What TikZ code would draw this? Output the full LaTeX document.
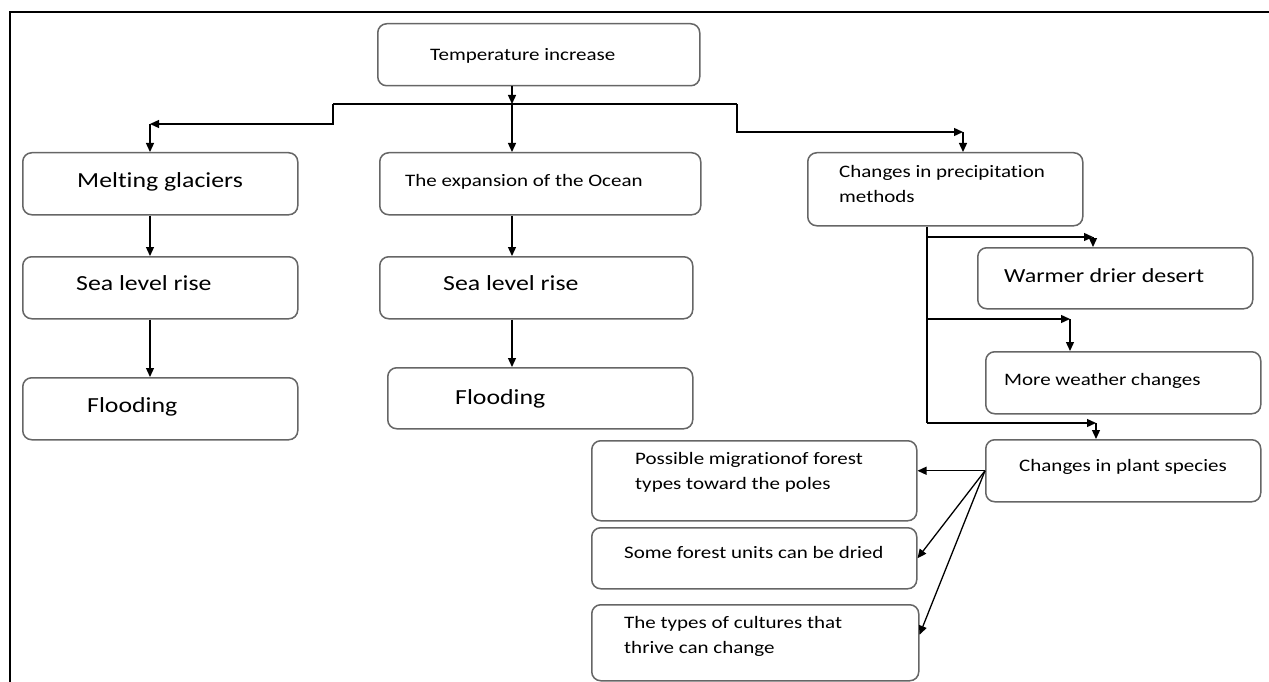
\documentclass[tikz,border=0pt]{standalone}
\usepackage{fontspec}
\setmainfont{Carlito}[FakeStretch=1.2, Ligatures=CommonOff]
\usetikzlibrary{arrows.meta}
\begin{document}
\begin{tikzpicture}[x=1pt,y=-1pt,
  box/.style={draw=black!60, line width=1.5pt, rounded corners=9pt, anchor=north west, inner sep=0pt},
  txt/.style={anchor=base west, inner sep=0pt, align=left, font=\fontsize{17.5}{25}\selectfont},
  bigtxt/.style={txt, font=\fontsize{21.5}{28}\selectfont},
  arr/.style={line width=1.3pt, -{Triangle[length=9pt,width=8pt]}},
  ln/.style={line width=1.3pt}]
\useasboundingbox (0,0) rectangle (1269,682);
\draw[line width=2.5pt] (1269,12) -- (10,12) -- (10,682);
% boxes
\node[box, minimum width=322pt, minimum height=62pt] (temp) at (377,23){};
\node[box, minimum width=275pt, minimum height=62pt] (melt) at (22,152){};
\node[box, minimum width=321pt, minimum height=62pt] (expa) at (379,152){};
\node[box, minimum width=275pt, minimum height=73pt] (prec) at (807,152){};
\node[box, minimum width=275pt, minimum height=62pt] (sea1) at (22,256){};
\node[box, minimum width=313pt, minimum height=62pt] (sea2) at (379,256){};
\node[box, minimum width=275pt, minimum height=62pt] (flood1) at (22,377){};
\node[box, minimum width=305pt, minimum height=61pt] (flood2) at (387,367){};
\node[box, minimum width=275pt, minimum height=61pt] (warm) at (977,247){};
\node[box, minimum width=275pt, minimum height=62pt] (more) at (985,351){};
\node[box, minimum width=275pt, minimum height=62pt] (plant) at (985,439){};
\node[box, minimum width=325pt, minimum height=80pt] (poss) at (591,440){};
\node[box, minimum width=325pt, minimum height=61pt] (forest) at (591,527){};
\node[box, minimum width=327pt, minimum height=76pt] (types) at (591,604){};
% texts (two-line texts sit on the last baseline)
\node[txt] (temp-t) at (430,61){Temperature increase};
\node[bigtxt] (melt-t) at (77,187){Melting glaciers};
\node[txt] (expa-t) at (405,186){The expansion of the Ocean};
\node[txt] (prec-t) at (839,202){Changes in precipitation\\methods};
\node[bigtxt] (sea1-t) at (76,290){Sea level rise};
\node[bigtxt] (sea2-t) at (443,290){Sea level rise};
\node[bigtxt] (flood1-t) at (87,412){Flooding};
\node[bigtxt] (flood2-t) at (455,404){Flooding};
\node[txt, font=\fontsize{20}{26}\selectfont] (warm-t) at (1004,282){Warmer drier desert};
\node[txt] (more-t) at (1004,385){More weather changes};
\node[txt] (plant-t) at (1019,471){Changes in plant species};
\node[txt] (poss-t) at (635,489){Possible migrationof forest\\types toward the poles};
\node[txt] (forest-t) at (624,558){Some forest units can be dried};
\node[txt] (types-t) at (624,653){The types of cultures that\\thrive can change};
% top level
\coordinate (jt) at (512,104);
\coordinate (jl) at (333,104);
\coordinate (jl2) at (333,124);
\coordinate (jm) at (150,124);
\coordinate (jr) at (737,104);
\coordinate (jr2) at (737,132);
\coordinate (jn) at (963,132);
\draw[arr](temp.south -| jt) -- (jt);
\draw[ln](jl) -- (jr);
\draw[arr](jl) -- (jl2) -- (jm);
\draw[arr](jm) -- (melt.north -| jm);
\draw[arr](jt) -- (expa.north -| jt);
\draw[arr](jr) -- (jr2) -- (jn);
\draw[arr](jn) -- (prec.north -| jn);
% columns
\coordinate (c1) at (150,0);
\coordinate (c2) at (512,0);
\draw[arr](melt.south -| c1) -- (sea1.north -| c1);
\draw[arr](sea1.south -| c1) -- (flood1.north -| c1);
\draw[arr](expa.south -| c2) -- (sea2.north -| c2);
\draw[arr](sea2.south -| c2) -- (flood2.north -| c2);
% precipitation
\coordinate (pv) at (927,423);
\coordinate (p1) at (927,237);
\coordinate (p1e) at (1093,237);
\coordinate (p2) at (927,319);
\coordinate (p2e) at (1070,319);
\coordinate (p3e) at (1096,423);
\draw[ln](prec.south -| pv) -- (pv);
\draw[arr](p1) -- (p1e);
\draw[arr](p1e) -- (warm.north -| p1e);
\draw[arr](p2) -- (p2e);
\draw[arr](p2e) -- (more.north -| p2e);
\draw[arr](pv) -- (p3e);
\draw[arr](p3e) -- (plant.north -| p3e);
% plant species
\draw[arr](plant.west) -- (poss.east |- plant.west);
\draw[arr](plant.west) -- (forest.east);
\draw[arr](plant.west) -- ([yshift=8pt]types.east);
\end{tikzpicture}
\end{document}
